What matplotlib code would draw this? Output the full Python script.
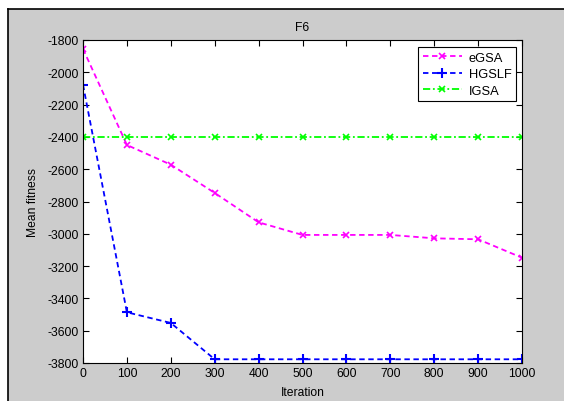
import matplotlib
matplotlib.use("Agg")
import matplotlib.pyplot as plt
from matplotlib.patches import Rectangle
from matplotlib.lines import Line2D

iterations = [0, 100, 200, 300, 400, 500, 600, 700, 800, 900, 1000]
egsa = [-1855, -2450, -2572, -2747, -2929, -3007, -3007, -3007, -3028, -3034, -3148]
hgslf = [-2077, -3486, -3552, -3777, -3777, -3777, -3777, -3777, -3777, -3777, -3777]
igsa = [-2400] * 11
xticks = [0, 100, 200, 300, 400, 500, 600, 700, 800, 900, 1000]
yticks = [-3800, -3600, -3400, -3200, -3000, -2800, -2600, -2400, -2200, -2000, -1800]

plt.rcParams['font.family'] = ['Liberation Sans', 'DejaVu Sans']
plt.rcParams['axes.unicode_minus'] = False
plt.rcParams['font.size'] = 8.7

W, H = 564, 402
fig = plt.figure(figsize=(W / 100, H / 100), dpi=100, facecolor='white')
# gray MATLAB figure area
fig.patches.append(Rectangle((8 / W, 0), 1 - 8 / W, 1 - 10 / H, transform=fig.transFigure,
                             facecolor='#cccccc', edgecolor='none', zorder=-10))
fig.lines.append(Line2D([8 / W, 8 / W], [0, 1 - 10 / H], transform=fig.transFigure, color='black', lw=1.2))
fig.lines.append(Line2D([8 / W, 1], [1 - 10 / H, 1 - 10 / H], transform=fig.transFigure, color='black', lw=1.2))

left, right, top, bottom = 83, 522, 41, 364
ax = fig.add_axes([left / W, 1 - bottom / H, (right - left) / W, (bottom - top) / H])
ax.set_facecolor('white')

ax.plot(iterations, egsa, color='#ff00ff', ls='--', lw=1.3, marker='x', ms=4, mew=1.2,
        label='eGSA', dashes=(3, 2))
ax.plot(iterations, hgslf, color='#0000ff', ls='--', lw=1.3, marker='+', ms=7, mew=1.5,
        label='HGSLF', dashes=(3, 2))
ax.plot(iterations, igsa, color='#00ff00', ls='-.', lw=1.3, marker='x', ms=4, mew=1.2,
        label='IGSA', dashes=(4, 1.5, 1, 1.5))

ax.set_xlim(0, 1000)
ax.set_ylim(-3800, -1800)
ax.set_xticks(xticks)
ax.set_yticks(yticks)
ax.tick_params(direction='in', top=True, right=True, length=4, width=0.8, pad=3,
               labelsize=8.7, colors='black')
for s in ax.spines.values():
    s.set_linewidth(0.8)

ax.set_title('F6', fontsize=8.7, pad=7)
ax.set_xlabel('Iteration', fontsize=8.7, labelpad=5)
ax.set_ylabel('Mean fitness', fontsize=8.7, labelpad=6)

leg = ax.legend(loc='upper right', bbox_to_anchor=(1 - 6 / (right - left), 1 - 7 / (bottom - top)),
                fancybox=False, edgecolor='black', framealpha=1, fontsize=9.3,
                borderaxespad=0, handlelength=3.0, handletextpad=0.55, labelspacing=0.35,
                borderpad=0.35)
leg.get_frame().set_linewidth(0.8)

fig.savefig('out.png', dpi=100, facecolor=fig.get_facecolor())
